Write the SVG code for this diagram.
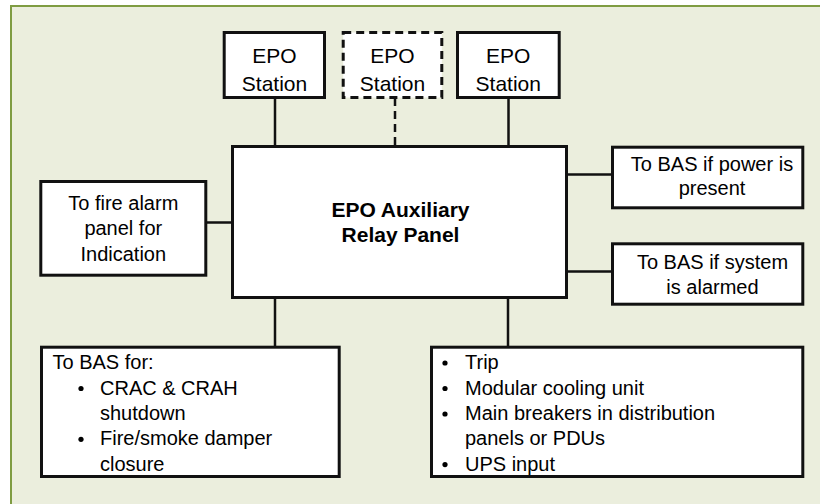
<svg xmlns="http://www.w3.org/2000/svg" width="820" height="504" viewBox="0 0 820 504">
  <style>
    .box { fill: #ffffff; stroke: #111111; stroke-width: 3; }
    .dash { fill: #ffffff; stroke: #111111; stroke-width: 3; stroke-dasharray: 8 5; }
    .conn { stroke: #111111; stroke-width: 2.5; fill: none; }
    .conn-dash { stroke: #111111; stroke-width: 2.5; fill: none; stroke-dasharray: 8 5; }
    text { font-family: "Liberation Sans", Arial, sans-serif; font-size: 20px; fill: #000000; }
    .c { text-anchor: middle; }
    .epo { font-size: 21px; }
    .bold { font-weight: bold; font-size: 21px; }
    .bul { fill: #000000; }
  </style>
  <rect x="0" y="0" width="820" height="504" fill="#ffffff"/>
  <rect id="background" x="11" y="6" width="820" height="510" fill="#EBEEDD" stroke="#7F9C42" stroke-width="2"/>

  <g id="connectors">
    <line class="conn" x1="275" y1="98" x2="275" y2="146"/>
    <line class="conn-dash" x1="395" y1="98" x2="395" y2="146"/>
    <line class="conn" x1="508.5" y1="98" x2="508.5" y2="146"/>
    <line class="conn" x1="206" y1="222.5" x2="232" y2="222.5"/>
    <line class="conn" x1="567" y1="174.5" x2="612" y2="174.5"/>
    <line class="conn" x1="567" y1="271.5" x2="612" y2="271.5"/>
    <line class="conn" x1="275" y1="298" x2="275" y2="347"/>
    <line class="conn" x1="508" y1="298" x2="508" y2="347"/>
  </g>

  <g id="epo-station-1">
    <rect class="box" x="224.2" y="32.5" width="100.3" height="65"/>
    <text class="c epo" x="274.5" y="62.5">EPO</text>
    <text class="c epo" x="274.5" y="90.5">Station</text>
  </g>

  <g id="epo-station-2">
    <rect class="dash" x="343.2" y="32.5" width="98.6" height="65"/>
    <text class="c epo" x="392.5" y="62.5">EPO</text>
    <text class="c epo" x="392.5" y="90.5">Station</text>
  </g>

  <g id="epo-station-3">
    <rect class="box" x="457.5" y="32.5" width="101.7" height="65"/>
    <text class="c epo" x="508.3" y="62.5">EPO</text>
    <text class="c epo" x="508.3" y="90.5">Station</text>
  </g>

  <g id="relay-panel">
    <rect class="box" x="232.5" y="146.5" width="334" height="151"/>
    <text class="c bold" x="400.5" y="216.5">EPO Auxiliary</text>
    <text class="c bold" x="400.5" y="241.5">Relay Panel</text>
  </g>

  <g id="fire-alarm">
    <rect class="box" x="40.8" y="181.5" width="165" height="93.7"/>
    <text class="c" x="123.3" y="210">To fire alarm</text>
    <text class="c" x="123.3" y="235.3">panel for</text>
    <text class="c" x="123.3" y="260.6">Indication</text>
  </g>

  <g id="bas-power">
    <rect class="box" x="612.5" y="147.2" width="190.3" height="60.6"/>
    <text class="c" x="712" y="171">To BAS if power is</text>
    <text class="c" x="712" y="194.5">present</text>
  </g>

  <g id="bas-alarmed">
    <rect class="box" x="612.5" y="243.8" width="190.3" height="60.4"/>
    <text class="c" x="712.5" y="269.3">To BAS if system</text>
    <text class="c" x="712.5" y="294.3">is alarmed</text>
  </g>

  <g id="bas-for">
    <rect class="box" x="41.5" y="347.2" width="297.7" height="129.3"/>
    <text x="52.5" y="369">To BAS for:</text>
    <circle class="bul" cx="81" cy="388.5" r="2.6"/>
    <text x="100" y="394.5">CRAC &amp; CRAH</text>
    <text x="100" y="420">shutdown</text>
    <circle class="bul" cx="81" cy="439.3" r="2.6"/>
    <text x="100" y="445.3">Fire/smoke damper</text>
    <text x="100" y="470.6">closure</text>
  </g>

  <g id="trip-list">
    <rect class="box" x="431.5" y="347.2" width="371.3" height="129.3"/>
    <circle class="bul" cx="445" cy="363" r="2.6"/>
    <text x="465" y="369">Trip</text>
    <circle class="bul" cx="445" cy="388.5" r="2.6"/>
    <text x="465" y="394.5">Modular cooling unit</text>
    <circle class="bul" cx="445" cy="414" r="2.6"/>
    <text x="465" y="420">Main breakers in distribution</text>
    <text x="465" y="445.3">panels or PDUs</text>
    <circle class="bul" cx="445" cy="464.6" r="2.6"/>
    <text x="465" y="470.6">UPS input</text>
  </g>
</svg>
